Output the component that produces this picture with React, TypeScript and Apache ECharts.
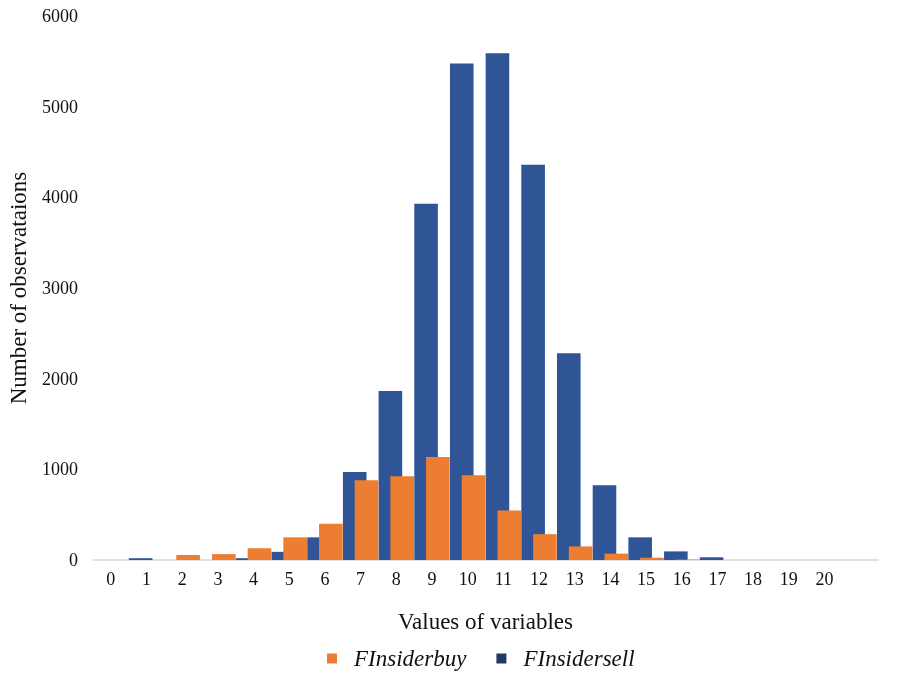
import React, { useEffect, useRef } from "react";
import * as echarts from "echarts";

const categories = ["0","1","2","3","4","5","6","7","8","9","10","11","12","13","14","15","16","17","18","19","20",""];
const sellValues = [0, 20, 0, 0, 20, 90, 250, 970, 1865, 3930, 5475, 5590, 4360, 2280, 825, 250, 95, 30, 0, 0, 0, null];
const buyValues = [0, 0, 55, 65, 130, 250, 400, 880, 925, 1135, 935, 545, 285, 150, 70, 25, 5, 0, 0, 0, 0, null];
const yTicks = { min: 0, max: 6000, interval: 1000 };

const FONT = "'Liberation Serif', 'Times New Roman', serif";

export default function App() {
  const ref = useRef<HTMLDivElement>(null);
  useEffect(() => {
    if (!ref.current) return;
    const chart = echarts.init(ref.current, null, { renderer: "svg" });
    chart.setOption({
      animation: false,
      textStyle: { fontFamily: FONT },
      grid: { left: 93, right: 31, top: 16, bottom: 114, containLabel: false, outerBoundsMode: "none" },
      legend: {
        top: 642,
        left: 322,
        itemWidth: 10,
        itemHeight: 10,
        itemGap: 30,
        icon: "rect",
        textStyle: { fontFamily: FONT, fontSize: 23, fontStyle: "italic", color: "#111", padding: [0, 0, 0, 12] },
        data: [
          { name: "FInsiderbuy", itemStyle: { color: "#ED7D31" } },
          { name: "FInsidersell", itemStyle: { color: "#203864" } },
        ],
      },
      xAxis: {
        type: "category",
        data: categories,
        name: "Values of variables",
        nameLocation: "middle",
        nameGap: 50,
        nameTextStyle: { fontFamily: FONT, fontSize: 23, color: "#111", verticalAlign: "top" },
        axisLine: { show: true, lineStyle: { color: "#d9d9d9", width: 1.5 } },
        axisTick: { show: false },
        axisLabel: { fontFamily: FONT, fontSize: 18, color: "#111", margin: 10, interval: 0 },
        splitLine: { show: false },
      },
      yAxis: {
        type: "value",
        min: yTicks.min,
        max: yTicks.max,
        interval: yTicks.interval,
        name: "Number of observataions",
        nameLocation: "middle",
        nameGap: 63,
        nameRotate: 90,
        nameTextStyle: { fontFamily: FONT, fontSize: 23, color: "#111" },
        axisLine: { show: false },
        axisTick: { show: false },
        axisLabel: { fontFamily: FONT, fontSize: 18, color: "#111", margin: 15, formatter: (v: number) => String(v) },
        splitLine: { show: false },
      },
      series: [
        {
          name: "FInsidersell",
          type: "bar",
          data: sellValues,
          barWidth: 23.6,
          barGap: "-50%",
          itemStyle: { color: "#2F5597" },
        },
        {
          name: "FInsiderbuy",
          type: "bar",
          data: buyValues,
          barWidth: 23.6,
          barGap: "-50%",
          itemStyle: { color: "#ED7D31" },
        },
      ],
    });
    return () => chart.dispose();
  }, []);
  return <div ref={ref} style={{ position: "fixed", left: 0, top: 0, width: 909, height: 674 }} />;
}
